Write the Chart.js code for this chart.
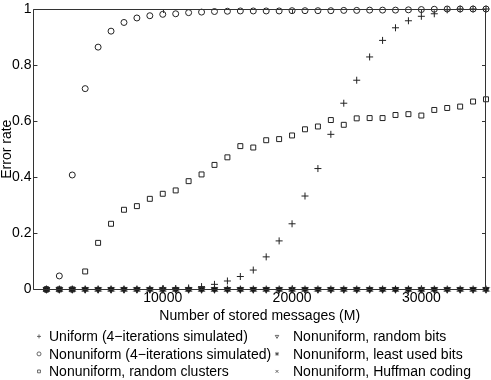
<!DOCTYPE html>
<html>
<head>
<meta charset="utf-8">
<script src="https://cdn.jsdelivr.net/npm/chart.js@4.4.1/dist/chart.umd.min.js"></script>
<style>
  body { margin: 0; background: #fff; }
  canvas { display: block; }
</style>
</head>
<body>
<canvas id="errChart" width="491" height="380"></canvas>
<script>
// number of stored messages (M)
var msgs = [1000, 2000, 3000, 4000, 5000, 6000, 7000, 8000, 9000, 10000,
  11000, 12000, 13000, 14000, 15000, 16000, 17000, 18000, 19000, 20000,
  21000, 22000, 23000, 24000, 25000, 26000, 27000, 28000, 29000, 30000,
  31000, 32000, 33000, 34000, 35000];

var uniform4 = [0, 0, 0, 0, 0, 0, 0, 0, 0, 0.002,
  0.003, 0.005, 0.01, 0.018, 0.03, 0.046, 0.069, 0.116, 0.173, 0.234,
  0.333, 0.431, 0.553, 0.664, 0.746, 0.829, 0.888, 0.933, 0.958, 0.974,
  0.983, 0.997, 1, 1, 1];
var nonuniform4 = [0, 0.048, 0.408, 0.716, 0.864, 0.921, 0.952, 0.968, 0.976, 0.981,
  0.983, 0.987, 0.989, 0.991, 0.992, 0.993, 0.993, 0.993, 0.993, 0.994,
  0.994, 0.994, 0.994, 0.995, 0.995, 0.996, 0.996, 0.996, 0.997, 0.998,
  0.999, 1, 1, 1, 1];
var randomClusters = [0, 0, 0, 0.064, 0.166, 0.234, 0.284, 0.297, 0.323, 0.341,
  0.353, 0.386, 0.410, 0.444, 0.471, 0.511, 0.506, 0.532, 0.536, 0.549,
  0.571, 0.581, 0.604, 0.587, 0.610, 0.611, 0.611, 0.622, 0.625, 0.620,
  0.640, 0.647, 0.652, 0.670, 0.678];
var randomBits = [0, 0, 0, 0, 0, 0, 0, 0, 0, 0, 0, 0, 0, 0, 0, 0, 0, 0,
  0, 0, 0, 0, 0, 0, 0, 0, 0, 0, 0, 0, 0, 0, 0, 0, 0];
var leastUsedBits = [0, 0, 0, 0, 0, 0, 0, 0, 0, 0, 0, 0, 0, 0, 0, 0, 0, 0,
  0, 0, 0, 0, 0, 0, 0, 0, 0, 0, 0, 0, 0, 0, 0, 0, 0];
var huffman = [0, 0, 0, 0, 0, 0, 0, 0, 0, 0, 0, 0, 0, 0, 0, 0, 0, 0,
  0, 0, 0, 0, 0, 0, 0, 0, 0, 0, 0, 0, 0, 0, 0, 0, 0];

var xTicks = [10000, 20000, 30000];
var yTicks = [0, 0.2, 0.4, 0.6, 0.8, 1];

var FONT = "'Liberation Sans', Arial, Helvetica, sans-serif";

// small filled star used as a marker (like matlab's hexagram)
function starMarker(size) {
  var cv = document.createElement('canvas');
  cv.width = size; cv.height = size;
  var g = cv.getContext('2d');
  var cx = size / 2, cy = size / 2, ro = size / 2, ri = size / 4.2;
  g.beginPath();
  for (var k = 0; k < 12; k++) {
    var r = k % 2 ? ri : ro;
    var ang = -Math.PI / 2 + k * Math.PI / 6;
    g.lineTo(cx + r * Math.cos(ang), cy + r * Math.sin(ang));
  }
  g.closePath();
  g.fillStyle = '#111';
  g.fill();
  return cv;
}
var starImg = starMarker(9);

function pts(vals) {
  return msgs.map(function (m, i) { return { x: m, y: vals[i] }; });
}

function series(label, vals, style, r, rot) {
  return {
    label: label,
    data: pts(vals),
    showLine: false,
    pointStyle: style,
    pointRadius: r,
    pointRotation: rot || 0,
    pointBorderColor: '#222',
    pointBackgroundColor: 'rgba(0,0,0,0)',
    pointBorderWidth: 1,
    pointHoverRadius: r,
    clip: false
  };
}

var datasets = [
  series('Uniform (4\u2212iterations simulated)', uniform4, 'cross', 3.5),
  series('Nonuniform (4\u2212iterations simulated)', nonuniform4, 'circle', 3),
  series('Nonuniform, random clusters', randomClusters, 'rect', 3.5),
  series('Nonuniform, random bits', randomBits, 'triangle', 3.5, 180),
  series('Nonuniform, least used bits', leastUsedBits, starImg, 4),
  series('Nonuniform, Huffman coding', huffman, 'crossRot', 3)
];
var legendStyles = ['cross', 'circle', 'rect', 'triangle', 'star', 'crossRot'];

// frame with inward tick marks, like the original axes box
var framePlugin = {
  id: 'frame',
  afterDatasetsDraw: function (chart) {
    var c = chart.ctx, a = chart.chartArea;
    var xs = chart.scales.x, ys = chart.scales.y;
    c.save();
    c.strokeStyle = '#333';
    c.lineWidth = 1;
    c.beginPath();
    c.rect(Math.round(a.left) + 0.5, Math.round(a.top) + 0.5,
      Math.round(a.right - a.left) - 1, Math.round(a.bottom - a.top));
    yTicks.forEach(function (v) {
      var y = Math.round(ys.getPixelForValue(v)) + 0.5;
      c.moveTo(a.left, y); c.lineTo(a.left + 4, y);
      c.moveTo(a.right - 4, y); c.lineTo(a.right, y);
    });
    xTicks.forEach(function (v) {
      var x = Math.round(xs.getPixelForValue(v)) + 0.5;
      c.moveTo(x, a.bottom); c.lineTo(x, a.bottom - 4);
      c.moveTo(x, a.top); c.lineTo(x, a.top + 4);
    });
    c.stroke();
    c.restore();
  }
};

// two-column legend below the axis title
var legendPlugin = {
  id: 'colLegend',
  afterDraw: function (chart) {
    var c = chart.ctx, a = chart.chartArea;
    var cols = [{ mark: 39, text: 49 }, { mark: 277, text: 293 }];
    c.save();
    c.font = '14px ' + FONT;
    c.textBaseline = 'middle';
    chart.data.datasets.forEach(function (ds, i) {
      var col = cols[Math.floor(i / 3)];
      var y = a.bottom + 47 + (i % 3) * 17.5;
      c.strokeStyle = '#444';
      c.fillStyle = 'rgba(0,0,0,0)';
      c.lineWidth = 0.8;
      Chart.helpers.drawPoint(c, {
        pointStyle: legendStyles[i],
        radius: 2,
        rotation: ds.pointRotation,
        borderWidth: 0.8
      }, col.mark, y);
      c.fillStyle = '#000';
      c.fillText(ds.label, col.text, y + 1);
    });
    c.restore();
  }
};

new Chart(document.getElementById('errChart'), {
  type: 'scatter',
  data: { datasets: datasets },
  options: {
    responsive: false,
    animation: false,
    layout: { padding: { left: 0, right: 2, top: 7, bottom: 55 } },
    scales: {
      x: {
        type: 'linear',
        min: 0,
        max: 35000,
        grid: { display: false, drawTicks: false },
        border: { display: false },
        afterBuildTicks: function (s) { s.ticks = xTicks.map(function (v) { return { value: v }; }); },
        ticks: {
          padding: 0,
          color: '#000',
          font: { family: FONT, size: 14 },
          callback: function (v) { return String(v); }
        },
        title: {
          display: true,
          text: 'Number of stored messages (M)',
          color: '#000',
          font: { family: FONT, size: 14 },
          padding: { top: 2, bottom: 0 }
        }
      },
      y: {
        min: 0,
        max: 1,
        grid: { display: false, drawTicks: false },
        border: { display: false },
        afterBuildTicks: function (s) { s.ticks = yTicks.map(function (v) { return { value: v }; }); },
        ticks: {
          padding: 2,
          color: '#000',
          font: { family: FONT, size: 14, lineHeight: 1 },
          callback: function (v) { return String(v); }
        },
        title: {
          display: true,
          text: 'Error rate',
          color: '#000',
          font: { family: FONT, size: 14, lineHeight: 1 },
          padding: { top: 0, bottom: -4 }
        }
      }
    },
    plugins: {
      legend: { display: false },
      tooltip: { enabled: false }
    }
  },
  plugins: [framePlugin, legendPlugin]
});
</script>
</body>
</html>
